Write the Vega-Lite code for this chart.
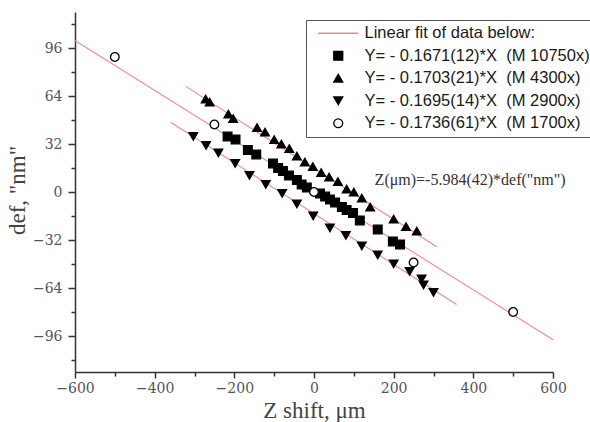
{
  "$schema": "https://vega.github.io/schema/vega-lite/v6.json",
  "width": 478,
  "height": 360,
  "autosize": {"type": "none"},
  "padding": {"left": 75, "top": 12, "right": 37, "bottom": 50},
  "background": "white",
  "config": {
    "view": {"stroke": null},
    "axis": {
      "grid": false,
      "domainColor": "#333",
      "domainWidth": 1.5,
      "tickColor": "#333",
      "tickWidth": 1.5,
      "labelFont": "DejaVu Serif",
      "labelFontSize": 14,
      "labelColor": "#555",
      "labelOverlap": false,
      "labelFlush": false,
      "titleFont": "Liberation Serif",
      "titleFontSize": 23,
      "titleFontWeight": "normal",
      "titleColor": "#444"
    },
    "legend": {
      "symbolOffset": 19
    }
  },
  "datasets": {
    "points": [
      {"z": -217, "def": 37, "series": "Y= - 0.1671(12)*X\u00a0 (M 10750x)"},
      {"z": -197, "def": 35, "series": "Y= - 0.1671(12)*X\u00a0 (M 10750x)"},
      {"z": -166, "def": 28, "series": "Y= - 0.1671(12)*X\u00a0 (M 10750x)"},
      {"z": -145, "def": 25, "series": "Y= - 0.1671(12)*X\u00a0 (M 10750x)"},
      {"z": -103, "def": 19, "series": "Y= - 0.1671(12)*X\u00a0 (M 10750x)"},
      {"z": -90, "def": 16, "series": "Y= - 0.1671(12)*X\u00a0 (M 10750x)"},
      {"z": -78, "def": 14, "series": "Y= - 0.1671(12)*X\u00a0 (M 10750x)"},
      {"z": -63, "def": 11, "series": "Y= - 0.1671(12)*X\u00a0 (M 10750x)"},
      {"z": -43, "def": 8, "series": "Y= - 0.1671(12)*X\u00a0 (M 10750x)"},
      {"z": -31, "def": 5, "series": "Y= - 0.1671(12)*X\u00a0 (M 10750x)"},
      {"z": -18, "def": 3, "series": "Y= - 0.1671(12)*X\u00a0 (M 10750x)"},
      {"z": 15, "def": -1, "series": "Y= - 0.1671(12)*X\u00a0 (M 10750x)"},
      {"z": 28, "def": -3, "series": "Y= - 0.1671(12)*X\u00a0 (M 10750x)"},
      {"z": 40, "def": -5, "series": "Y= - 0.1671(12)*X\u00a0 (M 10750x)"},
      {"z": 53, "def": -7, "series": "Y= - 0.1671(12)*X\u00a0 (M 10750x)"},
      {"z": 70, "def": -10, "series": "Y= - 0.1671(12)*X\u00a0 (M 10750x)"},
      {"z": 82, "def": -12, "series": "Y= - 0.1671(12)*X\u00a0 (M 10750x)"},
      {"z": 98, "def": -14, "series": "Y= - 0.1671(12)*X\u00a0 (M 10750x)"},
      {"z": 115, "def": -19, "series": "Y= - 0.1671(12)*X\u00a0 (M 10750x)"},
      {"z": 160, "def": -25, "series": "Y= - 0.1671(12)*X\u00a0 (M 10750x)"},
      {"z": 198, "def": -33, "series": "Y= - 0.1671(12)*X\u00a0 (M 10750x)"},
      {"z": 216, "def": -35, "series": "Y= - 0.1671(12)*X\u00a0 (M 10750x)"},
      {"z": -272, "def": 62, "series": "Y= - 0.1703(21)*X\u00a0 (M 4300x)"},
      {"z": -262, "def": 60, "series": "Y= - 0.1703(21)*X\u00a0 (M 4300x)"},
      {"z": -215, "def": 52, "series": "Y= - 0.1703(21)*X\u00a0 (M 4300x)"},
      {"z": -203, "def": 49, "series": "Y= - 0.1703(21)*X\u00a0 (M 4300x)"},
      {"z": -143, "def": 43, "series": "Y= - 0.1703(21)*X\u00a0 (M 4300x)"},
      {"z": -123, "def": 40, "series": "Y= - 0.1703(21)*X\u00a0 (M 4300x)"},
      {"z": -100, "def": 35, "series": "Y= - 0.1703(21)*X\u00a0 (M 4300x)"},
      {"z": -82, "def": 32, "series": "Y= - 0.1703(21)*X\u00a0 (M 4300x)"},
      {"z": -62, "def": 29, "series": "Y= - 0.1703(21)*X\u00a0 (M 4300x)"},
      {"z": -43, "def": 24, "series": "Y= - 0.1703(21)*X\u00a0 (M 4300x)"},
      {"z": -23, "def": 20, "series": "Y= - 0.1703(21)*X\u00a0 (M 4300x)"},
      {"z": -3, "def": 17, "series": "Y= - 0.1703(21)*X\u00a0 (M 4300x)"},
      {"z": 18, "def": 13, "series": "Y= - 0.1703(21)*X\u00a0 (M 4300x)"},
      {"z": 38, "def": 10, "series": "Y= - 0.1703(21)*X\u00a0 (M 4300x)"},
      {"z": 60, "def": 7, "series": "Y= - 0.1703(21)*X\u00a0 (M 4300x)"},
      {"z": 82, "def": 2, "series": "Y= - 0.1703(21)*X\u00a0 (M 4300x)"},
      {"z": 100, "def": 0, "series": "Y= - 0.1703(21)*X\u00a0 (M 4300x)"},
      {"z": 120, "def": -4, "series": "Y= - 0.1703(21)*X\u00a0 (M 4300x)"},
      {"z": 141, "def": -10, "series": "Y= - 0.1703(21)*X\u00a0 (M 4300x)"},
      {"z": 200, "def": -18, "series": "Y= - 0.1703(21)*X\u00a0 (M 4300x)"},
      {"z": 231, "def": -23, "series": "Y= - 0.1703(21)*X\u00a0 (M 4300x)"},
      {"z": 258, "def": -26, "series": "Y= - 0.1703(21)*X\u00a0 (M 4300x)"},
      {"z": -303, "def": 37, "series": "Y= - 0.1695(14)*X\u00a0 (M 2900x)"},
      {"z": -271, "def": 31, "series": "Y= - 0.1695(14)*X\u00a0 (M 2900x)"},
      {"z": -240, "def": 26, "series": "Y= - 0.1695(14)*X\u00a0 (M 2900x)"},
      {"z": -198, "def": 19, "series": "Y= - 0.1695(14)*X\u00a0 (M 2900x)"},
      {"z": -162, "def": 11, "series": "Y= - 0.1695(14)*X\u00a0 (M 2900x)"},
      {"z": -121, "def": 5, "series": "Y= - 0.1695(14)*X\u00a0 (M 2900x)"},
      {"z": -80, "def": -1, "series": "Y= - 0.1695(14)*X\u00a0 (M 2900x)"},
      {"z": -43, "def": -8, "series": "Y= - 0.1695(14)*X\u00a0 (M 2900x)"},
      {"z": -2, "def": -16, "series": "Y= - 0.1695(14)*X\u00a0 (M 2900x)"},
      {"z": 40, "def": -24, "series": "Y= - 0.1695(14)*X\u00a0 (M 2900x)"},
      {"z": 80, "def": -29, "series": "Y= - 0.1695(14)*X\u00a0 (M 2900x)"},
      {"z": 120, "def": -36, "series": "Y= - 0.1695(14)*X\u00a0 (M 2900x)"},
      {"z": 160, "def": -42, "series": "Y= - 0.1695(14)*X\u00a0 (M 2900x)"},
      {"z": 200, "def": -48, "series": "Y= - 0.1695(14)*X\u00a0 (M 2900x)"},
      {"z": 240, "def": -53, "series": "Y= - 0.1695(14)*X\u00a0 (M 2900x)"},
      {"z": 270, "def": -58, "series": "Y= - 0.1695(14)*X\u00a0 (M 2900x)"},
      {"z": 275, "def": -62, "series": "Y= - 0.1695(14)*X\u00a0 (M 2900x)"},
      {"z": 300, "def": -67, "series": "Y= - 0.1695(14)*X\u00a0 (M 2900x)"},
      {"z": -500, "def": 90, "series": "Y= - 0.1736(61)*X\u00a0 (M 1700x)"},
      {"z": -250, "def": 45, "series": "Y= - 0.1736(61)*X\u00a0 (M 1700x)"},
      {"z": 0, "def": 0, "series": "Y= - 0.1736(61)*X\u00a0 (M 1700x)"},
      {"z": 250, "def": -47, "series": "Y= - 0.1736(61)*X\u00a0 (M 1700x)"},
      {"z": 500, "def": -80, "series": "Y= - 0.1736(61)*X\u00a0 (M 1700x)"}
    ],
    "fits": [
      {"fit": "center", "z": -600, "def": 101},
      {"fit": "center", "z": 600, "def": -98.5},
      {"fit": "upper", "z": -322, "def": 70.4},
      {"fit": "upper", "z": 308, "def": -36.5},
      {"fit": "lower", "z": -360, "def": 46.5},
      {"fit": "lower", "z": 358, "def": -75}
    ],
    "notes": [
      {"z": 392, "def": 8, "label": "Z(μm)=-5.984(42)*def(\"nm\")"}
    ]
  },
  "encoding": {
    "x": {
      "field": "z",
      "type": "quantitative",
      "scale": {"domain": [-600, 600], "nice": false, "zero": false},
      "axis": {
        "title": "Z shift, μm",
        "values": [-600, -500, -400, -300, -200, -100, 0, 100, 200, 300, 400, 500, 600],
        "labelExpr": "datum.value % 200 === 0 ? datum.label : ''",
        "tickSize": {"condition": {"test": "datum.value % 200 === 0", "value": 6}, "value": 4},
        "labelPadding": 3,
        "titleBaseline": "alphabetic",
        "titleY": 45
      }
    },
    "y": {
      "field": "def",
      "type": "quantitative",
      "scale": {"domain": [-120, 120], "nice": false, "zero": false},
      "axis": {
        "title": "def, \"nm\"",
        "values": [-112, -96, -80, -64, -48, -32, -16, 0, 16, 32, 48, 64, 80, 96, 112],
        "labelExpr": "datum.value % 32 === 0 ? datum.label : ''",
        "tickSize": {"condition": {"test": "datum.value % 32 === 0", "value": 7}, "value": 4},
        "labelPadding": 6,
        "titleAngle": 270,
        "titleAlign": "center",
        "titleBaseline": "middle",
        "titleX": -58,
        "titleY": 178
      }
    }
  },
  "layer": [
    {
      "data": {"name": "fits"},
      "mark": {"type": "line", "color": "#ee8a8a", "strokeWidth": 1.1},
      "encoding": {"detail": {"field": "fit", "type": "nominal"}}
    },
    {
      "data": {"name": "points"},
      "mark": {"type": "point", "filled": true, "size": 75, "strokeWidth": 1.3, "opacity": 1},
      "encoding": {
        "shape": {
          "field": "series",
          "type": "nominal",
          "sort": null,
          "scale": {
            "domain": ["Linear fit of data below:", "Y= - 0.1671(12)*X\u00a0 (M 10750x)", "Y= - 0.1703(21)*X\u00a0 (M 4300x)", "Y= - 0.1695(14)*X\u00a0 (M 2900x)", "Y= - 0.1736(61)*X\u00a0 (M 1700x)"],
            "range": ["M-4.5,0L4.5,0", "square", "triangle-up", "triangle-down", "circle"]
          },
          "legend": {"title": null, "orient": "none", "legendX": 231, "legendY": 8, "padding": 5, "strokeColor": "#555", "fillColor": "white", "symbolSize": 80, "symbolStrokeWidth": 1.3, "labelFont": "Liberation Sans", "labelFontSize": 16.5, "labelColor": "#1a1a1a", "labelOffset": 18, "rowPadding": 5.5, "labelLimit": 400}
        },
        "fill": {
          "field": "series",
          "type": "nominal",
          "sort": null,
          "scale": {
            "domain": ["Linear fit of data below:", "Y= - 0.1671(12)*X\u00a0 (M 10750x)", "Y= - 0.1703(21)*X\u00a0 (M 4300x)", "Y= - 0.1695(14)*X\u00a0 (M 2900x)", "Y= - 0.1736(61)*X\u00a0 (M 1700x)"],
            "range": ["transparent", "black", "black", "black", "white"]
          },
          "legend": {"title": null, "orient": "none", "legendX": 231, "legendY": 8, "padding": 5, "strokeColor": "#555", "fillColor": "white", "symbolSize": 80, "symbolStrokeWidth": 1.3, "labelFont": "Liberation Sans", "labelFontSize": 16.5, "labelColor": "#1a1a1a", "labelOffset": 18, "rowPadding": 5.5, "labelLimit": 400}
        },
        "stroke": {
          "field": "series",
          "type": "nominal",
          "sort": null,
          "scale": {
            "domain": ["Linear fit of data below:", "Y= - 0.1671(12)*X\u00a0 (M 10750x)", "Y= - 0.1703(21)*X\u00a0 (M 4300x)", "Y= - 0.1695(14)*X\u00a0 (M 2900x)", "Y= - 0.1736(61)*X\u00a0 (M 1700x)"],
            "range": ["#ee8a8a", "black", "black", "black", "black"]
          },
          "legend": {"title": null, "orient": "none", "legendX": 231, "legendY": 8, "padding": 5, "strokeColor": "#555", "fillColor": "white", "symbolSize": 80, "symbolStrokeWidth": 1.3, "labelFont": "Liberation Sans", "labelFontSize": 16.5, "labelColor": "#1a1a1a", "labelOffset": 18, "rowPadding": 5.5, "labelLimit": 400}
        }
      }
    },
    {
      "data": {"name": "notes"},
      "mark": {"type": "text", "font": "Liberation Serif", "fontSize": 16, "color": "#333", "align": "center", "baseline": "middle"},
      "encoding": {"text": {"field": "label"}}
    }
  ]
}
